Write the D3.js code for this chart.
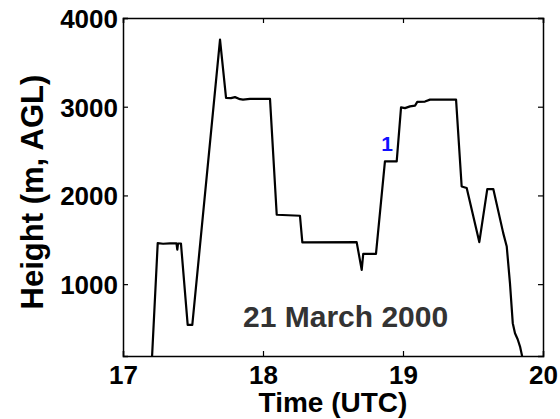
<!DOCTYPE html>
<html><head><meta charset="utf-8">
<script src="https://cdn.jsdelivr.net/npm/d3@7"></script>
<style>body{margin:0;background:#fff}svg{display:block}</style>
</head><body>
<svg id="c" width="560" height="419"></svg>
<script>
const timeUTC = [17.205,17.248,17.286,17.336,17.382,17.388,17.393,17.414,17.462,17.495,17.693,17.736,17.771,17.8,17.836,17.857,17.907,18.05,18.098,18.264,18.281,18.669,18.705,18.716,18.807,18.871,18.955,18.986,19.014,19.05,19.086,19.102,19.157,19.193,19.379,19.419,19.455,19.545,19.602,19.645,19.716,19.741,19.764,19.784,19.8,19.819,19.836,19.87];
const heightAGL = [100,1462,1455,1460,1460,1390,1458,1458,541,541,3757,3099,3097,3108,3085,3080,3088,3088,1782,1771,1470,1474,1161,1342,1342,2384,2384,2993,2984,3004,3012,3054,3058,3080,3080,2101,2083,1474,2072,2072,1575,1424,1011,560,447,379,296,50];
const xTicks = [17,18,19,20];
const yTicks = [1000,2000,3000,4000];
const annotText = "1", annotTime = 18.9, annotHeight = 2600;
const dateText = "21 March 2000";

const svg = d3.select("#c");
const L=123,R=543,T=18,B=356;
const x = d3.scaleLinear().domain([17,20]).range([L,R]);
const y = d3.scaleLinear().domain([190,4000]).range([B,T]);

svg.append("defs").append("clipPath").attr("id","clip")
  .append("rect").attr("x",L).attr("y",T).attr("width",R-L).attr("height",B-T);

const data = timeUTC.map((t,i)=>[t,heightAGL[i]]);
svg.append("path").datum(data).attr("clip-path","url(#clip)")
  .attr("fill","none").attr("stroke","#000").attr("stroke-width",2.2).attr("stroke-linejoin","round")
  .attr("d", d3.line().x(d=>x(d[0])).y(d=>y(d[1])));

const font = "Liberation Sans, Arial, sans-serif";
// axes
const gx = svg.append("g").attr("transform",`translate(0,${B})`)
  .call(d3.axisBottom(x).tickValues(xTicks).tickSize(-5).tickPadding(9).tickFormat(d3.format("d")));
const gy = svg.append("g").attr("transform",`translate(${L},0)`)
  .call(d3.axisLeft(y).tickValues(yTicks).tickSize(-5).tickPadding(5).tickFormat(d3.format("d")));
const gt = svg.append("g").attr("transform",`translate(0,${T})`)
  .call(d3.axisTop(x).tickValues(xTicks).tickSize(-5).tickFormat(""));
const gr = svg.append("g").attr("transform",`translate(${R},0)`)
  .call(d3.axisRight(y).tickValues(yTicks).tickSize(-5).tickFormat(""));
[gx,gy,gt,gr].forEach(g=>{
  g.select(".domain").attr("stroke","#000").attr("stroke-width",1.5);
  g.selectAll(".tick line").attr("stroke","#000").attr("stroke-width",1.2);
  g.selectAll("text").attr("font-family",font).attr("font-weight","bold").attr("font-size",26).attr("fill","#000");
});
gy.selectAll(".tick text").attr("dy","0.36em");
gx.selectAll(".tick text").attr("dy","0.72em");

svg.append("text").attr("x",(L+R)/2).attr("y",412).attr("text-anchor","middle")
  .attr("font-family",font).attr("font-weight","bold").attr("font-size",28).text("Time (UTC)");
svg.append("text").attr("transform","translate(43,192) rotate(-90)").attr("text-anchor","middle")
  .attr("font-family",font).attr("font-weight","bold").attr("font-size",31).text("Height (m, AGL)");

svg.append("text").attr("x",x(annotTime)-2).attr("y",y(annotHeight)+9).attr("text-anchor","middle")
  .attr("font-family",font).attr("font-weight","bold").attr("font-size",21).attr("fill","#1010ff").text(annotText);
svg.append("text").attr("x",243).attr("y",327)
  .attr("font-family",font).attr("font-weight","bold").attr("font-size",30).attr("fill","#333").text(dateText);
</script>
</body></html>
